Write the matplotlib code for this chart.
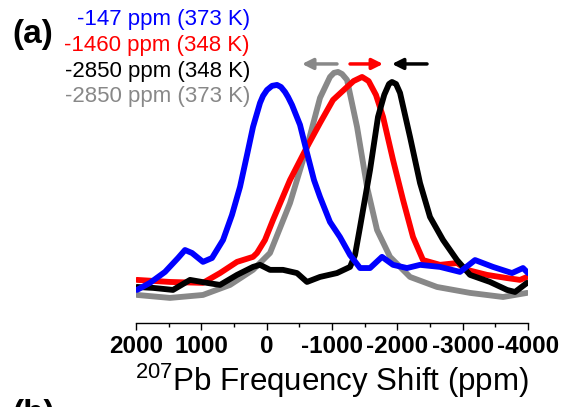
import matplotlib.pyplot as plt

plt.rcParams['font.family'] = ['Liberation Sans', 'DejaVu Sans']
plt.rcParams['axes.unicode_minus'] = False
plt.rcParams['mathtext.fontset'] = 'custom'
plt.rcParams['mathtext.rm'] = 'Liberation Sans'

# 207Pb NMR spectra, chemical shift (ppm) vs normalised intensity (a.u.)
shift_blue = [1985, 1786, 1556, 1357, 1250, 1143, 975, 837, 668, 531, 408, 301, 209,
              102, 56, -5, -82, -158, -219, -281, -327, -388, -510, -617, -724, -816,
              -969, -1122, -1276, -1429, -1582, -1765, -1934, -2148, -2347, -2653,
              -2959, -3189, -3464, -3755, -3923, -4000]
int_blue = [4.4, 7.5, 12.3, 18.4, 21.9, 20.6, 16.7, 18.4, 26.3, 37.3, 49.6, 63.6, 75.9,
            86.4, 89.5, 92.1, 93.9, 94.3, 93.4, 91.2, 89.0, 85.5, 76.8, 64.5, 52.6, 45.2,
            34.2, 27.6, 19.7, 14.0, 14.0, 18.9, 15.4, 14.0, 15.4, 14.5,
            12.3, 17.5, 14.5, 11.8, 14.0, 11.8]

shift_red = [1985, 1480, 975, 714, 454, 209, 148, 26, -97, -357, -617, -816, -1015,
             -1230, -1330, -1460, -1560, -1673, -1781, -1934, -2087, -2240, -2393,
             -2653, -2913, -3066, -3372, -3679, -3877, -3985]
int_red = [8.8, 7.9, 7.5, 11.8, 16.7, 18.9, 20.6, 26.3, 35.1, 52.6, 67.1, 77.6, 87.7,
           93.4, 96.0, 97.8, 96.0, 89.9, 80.3, 61.4, 43.9, 27.6, 17.5,
           15.4, 16.2, 13.2, 11.0, 9.6, 8.8, 10.1]

shift_black = [1985, 1740, 1434, 1173, 913, 714, 454, 209, 102, -51, -250, -464, -617,
               -816, -1076, -1276, -1352, -1429, -1582, -1704, -1800, -1872, -1918,
               -1980, -2041, -2194, -2347, -2500, -2699, -2913, -3112, -3418, -3679,
               -3801, -3985]
int_black = [5.7, 5.3, 4.4, 8.8, 7.5, 6.6, 11.0, 14.5, 15.4, 13.2, 13.2, 11.8, 7.9,
             10.1, 11.8, 14.5, 19.7, 32.0, 57.0, 80.3, 90.0, 94.7, 95.6,
             94.7, 90.8, 71.5, 51.3, 36.4, 26.3, 17.5, 11.0, 7.9, 4.4,
             3.5, 7.5]

shift_gray = [1985, 1480, 975, 561, 209, -51, -357, -617, -816, -969, -1030, -1092,
              -1153, -1230, -1383, -1536, -1689, -1888, -2194, -2607, -3112, -3618,
              -3985]
int_gray = [2.2, 0.9, 2.2, 6.6, 13.2, 20.6, 42.5, 67.1, 88.6, 97.8, 99.6, 100.0,
            99.1, 96.5, 75.9, 49.6, 30.7, 18.9, 10.1, 5.7, 3.1, 1.3, 3.1]

labels = ['-147 ppm (373 K)', '-1460 ppm (348 K)', '-2850 ppm (348 K)', '-2850 ppm (373 K)']
colors = ['#0000ff', '#ff0000', '#000000', '#888888']

# shift arrows above the peaks: (tail, head) in ppm
arrows = [(-1076, -541, '#888888'), (-1276, -1781, '#ff0000'), (-2454, -1918, '#000000')]

fig = plt.figure(figsize=(5.66, 4.07), dpi=100)
ax = fig.add_axes([0.2403, 0.2064, 0.6926, 0.6953])

for x, y, c in [(shift_gray, int_gray, colors[3]), (shift_red, int_red, colors[1]),
                (shift_black, int_black, colors[2]), (shift_blue, int_blue, colors[0])]:
    ax.plot(x, y, color=c, lw=4.2, solid_joinstyle='round', solid_capstyle='round')

ax.set_xlim(2000, -4000)
ax.set_ylim(-10.1, 114)

for tail, head, c in arrows:
    ax.annotate('', xy=(head, 103.5), xytext=(tail, 103.5),
                arrowprops=dict(arrowstyle='-|>', color=c, lw=2.5, mutation_scale=16,
                                shrinkA=0, shrinkB=0))

for s in ['left', 'right', 'top']:
    ax.spines[s].set_visible(False)
ax.spines['bottom'].set_linewidth(1)
ax.set_yticks([])
ax.set_xticks([2000, 1000, 0, -1000, -2000, -3000, -4000])
ax.set_xticks(range(-3500, 2000, 1000), minor=True)
ax.tick_params(axis='x', which='major', length=5, width=1, labelsize=17.5, pad=4)
ax.tick_params(axis='x', which='minor', length=3, width=1)
for t in ax.get_xticklabels():
    t.set_fontweight('bold')
ax.set_xlabel(r'$^{207}$Pb Frequency Shift (ppm)', fontsize=22.5, labelpad=2)

for i, (lab, c) in enumerate(zip(labels, colors)):
    fig.text(250 / 566, 1 - (20 + 25.5 * i) / 407, lab, color=c, fontsize=16,
             ha='right', va='center')

fig.text(12 / 566, 1 - 34 / 407, '(a)', fontsize=24, fontweight='bold', va='center')
fig.text(12 / 566, 1 - 399 / 407, '(b)', fontsize=24, fontweight='bold', va='top')

fig.savefig('out.png', dpi=100)
